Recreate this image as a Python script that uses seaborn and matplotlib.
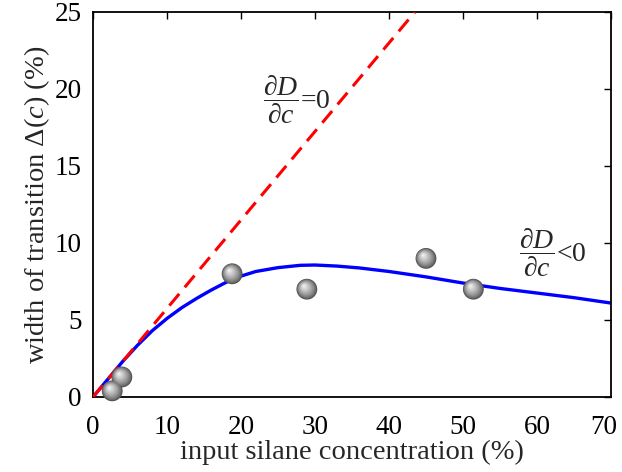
import matplotlib
import numpy as np
import pandas as pd
import seaborn as sns
import matplotlib.pyplot as plt
from matplotlib.transforms import offset_copy, ScaledTranslation

# measured points (sphere markers)
conc_pts = [2.6, 3.9, 18.8, 28.9, 45.0, 51.4]
width_pts = [0.4, 1.3, 8.0, 7.0, 9.0, 7.0]

# model curve
conc_fit = [0, 2, 4, 6, 8, 10, 12, 14, 16, 18, 20, 22, 25, 28, 30, 33, 36, 40,
            45, 50, 55, 60, 65, 70]
width_fit = [0, 1.15, 2.3, 3.35, 4.3, 5.1, 5.8, 6.4, 6.95, 7.45, 7.85, 8.15, 8.4,
             8.55, 8.57, 8.5, 8.38, 8.15, 7.8, 7.4, 7.05, 6.75, 6.45, 6.1]

# dD/dc = 0 limit line
conc_lim = [0, 43.5]
width_lim = [0, 25]

sns.set_style("white")
matplotlib.rcParams['font.family'] = ['Liberation Serif', 'DejaVu Serif']
matplotlib.rcParams['mathtext.fontset'] = 'custom'
matplotlib.rcParams['mathtext.rm'] = 'Liberation Serif'
matplotlib.rcParams['mathtext.it'] = 'Liberation Serif:italic'
matplotlib.rcParams['mathtext.bf'] = 'Liberation Serif:bold'

fig = plt.figure(figsize=(6.22, 4.72), dpi=100)
ax = fig.add_axes([0.1495, 0.1589, 0.8328, 0.8157])

sns.lineplot(x=conc_lim, y=width_lim, ax=ax, color='red', lw=2.2,
             dashes=False, zorder=3)
ax.lines[-1].set_dashes([5, 2.8])
sns.lineplot(x=conc_fit, y=width_fit, ax=ax, color='blue', lw=2.4, zorder=2)

# shaded spheres: stacked discs getting lighter toward the upper left
df = pd.DataFrame({'c': conc_pts, 'w': width_pts})
n = 14
for k in range(n):
    f = k / (n - 1)
    size = 225 * (1 - 0.92 * f) ** 2
    g = 0.32 + 0.62 * f ** 0.75
    tr = offset_copy(ax.transData, fig=fig, x=-3.0 * f, y=3.2 * f, units='dots')
    sns.scatterplot(data=df, x='c', y='w', ax=ax, s=size, color=(g, g, g),
                    edgecolor='none', linewidth=0, transform=tr, zorder=4 + k,
                    legend=False, clip_on=False)

ax.text(23.0, 19.3, r"$\dfrac{\partial D}{\partial c}$=0", fontsize=20,
        va='center', ha='left')
ax.text(57.6, 9.4, r"$\dfrac{\partial D}{\partial c}$<0", fontsize=20,
        va='center', ha='left')

ax.set_xlim(0, 70)
ax.set_ylim(0, 25)
ax.set_xticks(range(0, 71, 10))
ax.set_yticks(range(0, 26, 5))
ax.tick_params(direction='in', length=5, width=1, top=True, right=True,
               labelsize=19.5, colors='black')
ax.tick_params(axis='x', pad=13)
ax.tick_params(axis='y', pad=8)
for sp in ax.spines.values():
    sp.set_color('black')
    sp.set_linewidth(1.3)
ax.set_xlabel('input silane concentration (%)', fontsize=20.5, labelpad=0)
ax.set_ylabel(r'width of transition $\Delta(c)$ (%)', fontsize=20.5, labelpad=2)

# last x tick label sits a little left of its tick, as in the original
last = ax.get_xticklabels()[-1]
last.set_transform(last.get_transform() + ScaledTranslation(-0.07, 0, fig.dpi_scale_trans))

fig.savefig('out.png', dpi=100)
